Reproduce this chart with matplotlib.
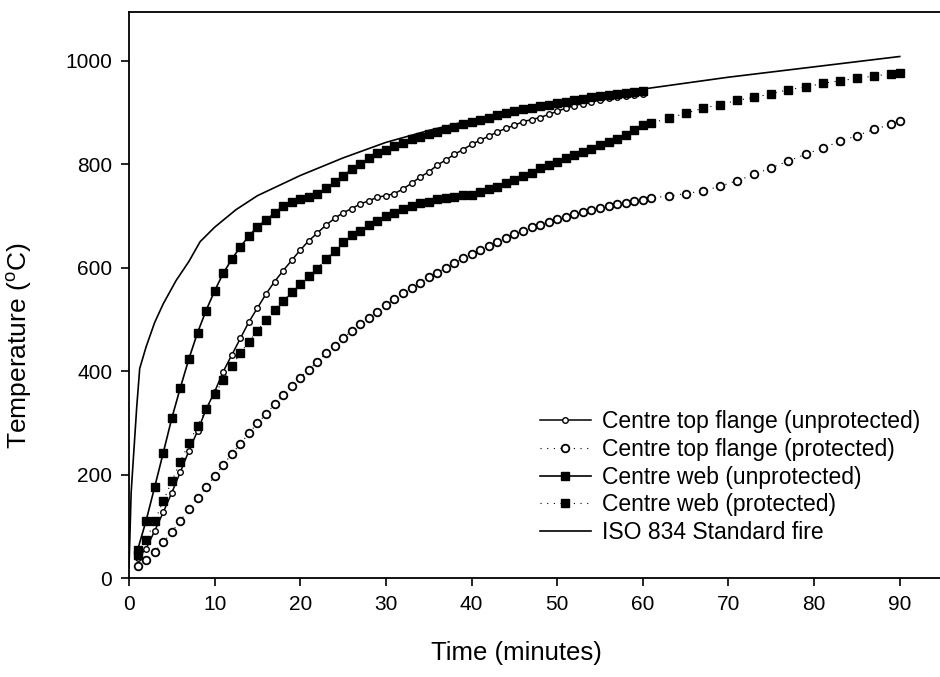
import numpy as np
import matplotlib
matplotlib.use("Agg")
import matplotlib.pyplot as plt

plt.rcParams['font.family'] = ['Liberation Sans', 'DejaVu Sans']
plt.rcParams['mathtext.fontset'] = 'custom'
plt.rcParams['mathtext.rm'] = 'Liberation Sans'
plt.rcParams['mathtext.it'] = 'Liberation Sans:italic'

# ---------------- data ----------------
t_unprot = np.arange(1, 61)
flange_unprot = [38, 57, 91, 127, 165, 205, 246, 284, 326, 360,
                 399, 431, 463, 495, 522, 549, 573, 594, 614, 634,
                 652, 667, 682, 695, 706, 714, 723, 729, 736, 739,
                 743, 752, 763, 775, 785, 798, 808, 819, 828, 838,
                 846, 854, 862, 869, 875, 882, 886, 890, 896, 902,
                 908, 913, 917, 920, 924, 927, 929, 931, 933, 935]
web_unprot = [54, 111, 176, 242, 309, 368, 424, 474, 517, 555,
              589, 616, 640, 661, 679, 692, 705, 719, 727, 732,
              737, 742, 753, 765, 777, 790, 801, 811, 821, 828,
              835, 841, 848, 853, 858, 862, 867, 872, 877, 882,
              886, 890, 895, 898, 902, 906, 909, 912, 915, 918,
              921, 924, 926, 929, 931, 933, 935, 937, 939, 941]

t_prot = [1, 2, 3, 4, 5, 6, 7, 8, 9, 10, 11, 12, 13, 14, 15, 16, 17, 18, 19, 20,
          21, 22, 23, 24, 25, 26, 27, 28, 29, 30, 31, 32, 33, 34, 35, 36, 37, 38, 39, 40,
          41, 42, 43, 44, 45, 46, 47, 48, 49, 50, 51, 52, 53, 54, 55, 56, 57, 58, 59, 60, 61,
          63, 65, 67, 69, 71, 73, 75, 77, 79, 81, 83, 85, 87, 89, 90]
flange_prot = [23, 35, 51, 69, 89, 111, 133, 154, 175, 197,
               218, 240, 259, 280, 299, 317, 336, 353, 371, 387,
               403, 418, 434, 448, 463, 478, 490, 503, 515, 528,
               539, 550, 560, 571, 581, 590, 600, 608, 618, 626,
               634, 642, 650, 658, 664, 671, 678, 683, 689, 694,
               698, 703, 708, 711, 716, 719, 722, 725, 728, 730, 735,
               738, 743, 748, 757, 768, 780, 793, 806, 819, 831, 844, 855, 867, 877, 883]
web_prot = [44, 73, 110, 149, 187, 225, 260, 294, 326, 355,
            383, 410, 434, 457, 478, 499, 518, 536, 552, 568,
            584, 598, 617, 632, 649, 663, 671, 682, 690, 700,
            706, 714, 719, 724, 727, 732, 735, 737, 740, 741,
            746, 751, 756, 763, 769, 777, 783, 792, 798, 804,
            811, 817, 824, 830, 837, 843, 848, 857, 866, 875, 879,
            889, 898, 908, 915, 923, 929, 936, 944, 949, 956, 961, 966, 970, 975, 977]

t_iso = [0, 0.25, 0.9, 1.25, 2, 3, 4, 5.5, 7, 8.3, 10, 12.5, 15, 20, 25, 30, 35, 40,
         50, 60, 70, 80, 90]
iso = [20, 165, 330, 405, 447, 494, 530, 575, 612, 650, 678, 712, 739, 778, 812, 842,
       865, 885, 918, 945, 968, 988, 1008]

labels = ["Centre top flange (unprotected)", "Centre top flange (protected)",
          "Centre web (unprotected)", "Centre web (protected)", "ISO 834 Standard fire"]
x_ticks = [0, 10, 20, 30, 40, 50, 60, 70, 80, 90]
y_ticks = [0, 200, 400, 600, 800, 1000]

# ---------------- figure ----------------
fig = plt.figure(figsize=(9.4, 6.77), dpi=100)
ax = fig.add_axes([129 / 940, 99 / 677, 811 / 940, 566 / 677])

ax.plot(t_unprot, flange_unprot, color='black', lw=1.1, marker='o', ms=4,
        mfc='white', mec='black', mew=1.0, label=labels[0])
ax.plot(t_prot, flange_prot, color='black', lw=0.8, ls=(0, (1, 5)), marker='o', ms=5.5,
        mfc='white', mec='black', mew=1.3, label=labels[1])
ax.plot(t_unprot, web_unprot, color='black', lw=1.2, marker='s', ms=5.2,
        mfc='black', mec='black', label=labels[2])
ax.plot(t_prot, web_prot, color='black', lw=0.8, ls=(0, (1, 5)), marker='s', ms=5.2,
        mfc='black', mec='black', label=labels[3])
ax.plot(t_iso, iso, color='black', lw=1.2, label=labels[4])

ax.set_xlim(0, 94.7)
ax.set_ylim(0, 1094)
ax.set_xticks(x_ticks)
ax.set_yticks(y_ticks)
ax.spines['right'].set_visible(False)
for s in ['left', 'bottom', 'top']:
    ax.spines[s].set_linewidth(1.3)
ax.tick_params(direction='out', length=6, width=1.2, labelsize=15, pad=6)

ax.set_xlabel("Time (minutes)", fontsize=18.5)
ax.set_ylabel(r"Temperature ($^{\rm o}$C)", fontsize=19)
ax.xaxis.set_label_coords(0.478, -0.112)
ax.yaxis.set_label_coords(-0.117, 0.41)

leg = ax.legend(loc='upper left', bbox_to_anchor=(0.507, 0.296), frameon=False,
                fontsize=16.5, handlelength=2.2, handletextpad=0.5, labelspacing=0.2,
                borderpad=0, borderaxespad=0, numpoints=1)

fig.savefig("out.png", dpi=100)
